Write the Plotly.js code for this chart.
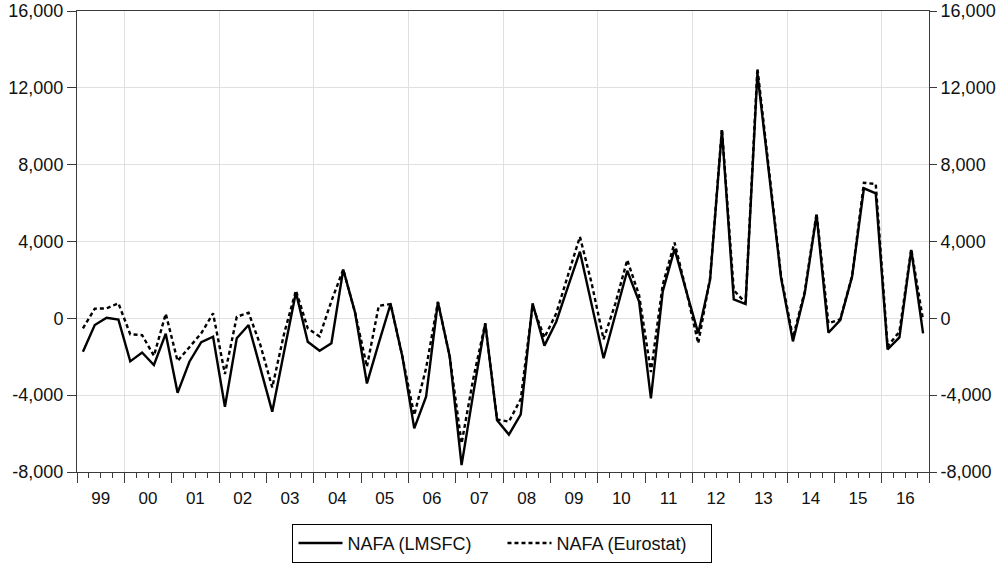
<!DOCTYPE html>
<html><head><meta charset="utf-8">
<script src="https://cdn.plot.ly/plotly-3.0.1.min.js"></script>
<style>html,body{margin:0;padding:0;background:#fff}#chart{width:1002px;height:565px}</style>
</head><body><div id="chart"></div>
<script>
// Quarterly data 1999Q1 - 2016Q4
const years = [1999,2000,2001,2002,2003,2004,2005,2006,2007,2008,2009,2010,2011,2012,2013,2014,2015,2016];
const yearLabels = ['99','00','01','02','03','04','05','06','07','08','09','10','11','12','13','14','15','16'];

const nafaLMSFC = [
  -1740, -350, 30, -70,
  -2240, -1780, -2430, -800,
  -3880, -2260, -1240, -960,
  -4600, -1040, -350, -2570,
  -4860, -1740, 1350, -1220,
  -1690, -1300, 2540, 300,
  -3390, -1290, 745, -2000,
  -5730, -4080, 850, -2000,
  -7640, -3870, -260, -5300,
  -6050, -5000, 780, -1420,
  -175, 1670, 3470, 690,
  -2080, 200, 2480, 870,
  -4170, 1400, 3610, 1390,
  -780, 2000, 9800, 990,
  745, 12760, 7500, 2100,
  -1200, 1300, 5380, -750,
  -90, 2170, 6770, 6510,
  -1620, -990, 3560, -780
];
const nafaEurostat = [
  -520, 500, 520, 780,
  -830, -870, -1950, 240,
  -2220, -1500, -780, 260,
  -2900, 80, 290, -1400,
  -3600, -800, 1450, -520,
  -940, 900, 2540, 300,
  -2520, 650, 745, -2000,
  -5040, -2600, 850, -2000,
  -6510, -3100, -260, -5260,
  -5380, -4200, 650, -1000,
  260, 2260, 4250, 1800,
  -1090, 780, 3040, 1210,
  -2800, 1750, 3940, 1400,
  -1300, 2100, 9850, 1470,
  800, 13020, 7600, 2200,
  -1000, 1400, 5470, -260,
  -50, 2200, 7060, 6990,
  -1450, -700, 3600, -100
];
const yTickVals = [-8000, -4000, 0, 4000, 8000, 12000, 16000];
const yTickText = ['-8,000', '-4,000', '0', '4,000', '8,000', '12,000', '16,000'];

const xIdx = nafaLMSFC.map((_, i) => i);
const periods = xIdx.map(i => years[Math.floor(i / 4)] + 'Q' + (i % 4 + 1));
const yearMid = years.map((_, k) => 4 * k + 1.5);
const yearBound = years.map((_, k) => 4 * k - 0.5).concat([4 * years.length - 0.5]);
const quarterBound = [];
for (let i = 0; i <= 4 * years.length; i++) quarterBound.push(i - 0.5);
const evenYearBound = years.map((y, k) => ({y, v: 4 * k - 0.5})).filter(o => o.y % 2 === 0).map(o => o.v);
const xRange = [-0.5, 4 * years.length - 0.5];

const FONT = 'Liberation Sans, Arial, sans-serif';
const AX = '#3a3a3a';
const GRID = '#e0e0e0';

const traces = [
  {x: xIdx, y: nafaLMSFC, text: periods, type: 'scatter', mode: 'lines', name: 'NAFA (LMSFC)',
   line: {color: '#000', width: 2.4}, xaxis: 'x', yaxis: 'y'},
  {x: xIdx, y: nafaEurostat, text: periods, type: 'scatter', mode: 'lines', name: 'NAFA (Eurostat)',
   line: {color: '#000', width: 2.4, dash: '4px,3px'}, xaxis: 'x2', yaxis: 'y2'}
];

const layout = {
  width: 1002, height: 565,
  margin: {l: 77, r: 73, t: 11, b: 93},
  paper_bgcolor: '#fff', plot_bgcolor: '#fff',
  font: {family: FONT, size: 17, color: '#111'},
  showlegend: true,
  xaxis: {
    range: xRange, tickmode: 'array', tickvals: yearMid, ticktext: yearLabels,
    ticks: 'outside', ticklen: 11, tickcolor: 'rgba(0,0,0,0)', automargin: false,
    showgrid: false, zeroline: false, showline: true, linecolor: AX, linewidth: 1, mirror: true,
    tickfont: {family: FONT, size: 17, color: '#111'},
    minor: {tickmode: 'array', tickvals: quarterBound, ticks: 'outside', ticklen: 5, tickcolor: AX, tickwidth: 1, showgrid: false}
  },
  xaxis2: {
    overlaying: 'x', anchor: 'y', side: 'bottom', range: xRange, automargin: false,
    tickmode: 'array', tickvals: yearBound, ticks: 'outside', ticklen: 10, tickcolor: AX, tickwidth: 1,
    showticklabels: false, showgrid: false, zeroline: false, showline: false,
    minor: {tickmode: 'array', tickvals: evenYearBound, ticks: '', showgrid: true, gridcolor: GRID, gridwidth: 1}
  },
  yaxis: {
    range: [-8000, 16000], tickmode: 'array', tickvals: yTickVals, ticktext: yTickText, automargin: false,
    ticks: 'outside', ticklen: 9, tickcolor: AX, showline: true, linecolor: AX, linewidth: 1,
    showgrid: true, gridcolor: GRID, gridwidth: 1, zeroline: false,
    tickfont: {family: FONT, size: 18, color: '#111'}
  },
  yaxis2: {
    overlaying: 'y', side: 'right', anchor: 'x', range: [-8000, 16000], automargin: false,
    tickmode: 'array', tickvals: yTickVals, ticktext: yTickText,
    ticks: 'outside', ticklen: 7, tickcolor: AX, showline: true, linecolor: AX, linewidth: 1,
    showgrid: false, zeroline: false,
    tickfont: {family: FONT, size: 18, color: '#111'}
  },
  legend: {
    orientation: 'h', x: 0.4994, xanchor: 'center',
    yref: 'container', y: 0.004, yanchor: 'bottom',
    bordercolor: '#000', borderwidth: 1, bgcolor: '#fff',
    itemwidth: 44, entrywidth: 150, entrywidthmode: 'pixels',
    font: {family: FONT, size: 18, color: '#111'}
  }
};

Plotly.newPlot('chart', traces, layout, {staticPlot: true, displayModeBar: false});
</script>
</body></html>
